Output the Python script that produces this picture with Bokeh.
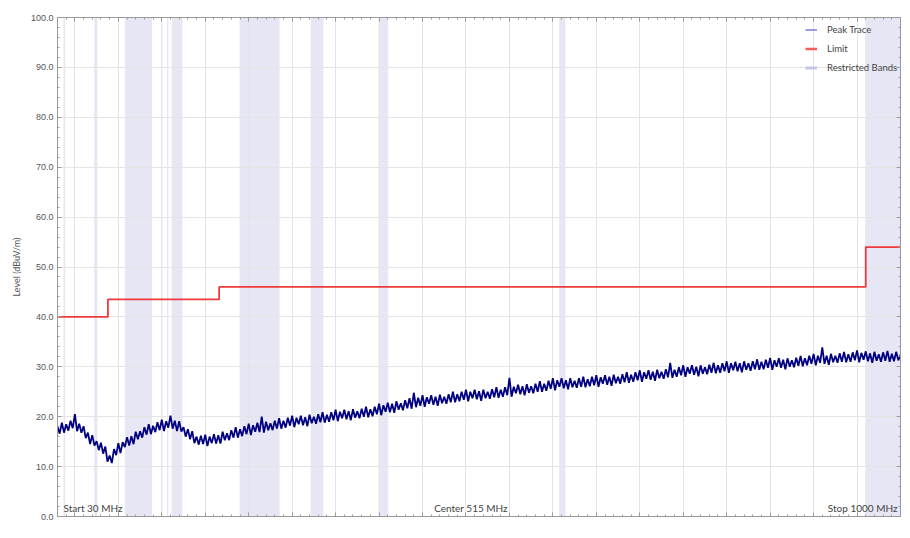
from bokeh.plotting import figure
from bokeh.models import (Range1d, LinearAxis, FixedTicker, NumeralTickFormatter, Label,
                          Legend, LegendItem, CustomJSTickFormatter)
from bokeh.embed import file_html
from bokeh.resources import INLINE
import numpy as np

# ---- data ----
# Peak trace (dBuV/m), sampled every 2.5 MHz from 30 to 1000 MHz
peak_trace = [
    18.1, 16.6, 18.8, 16.8, 18.5, 17.2, 19.2, 17.7, 20.5, 17.1, 18.6, 16.8, 18.1, 15.7, 16.8, 14.5, 16.3, 14.2, 15.1, 13.3,  # 30
    14.8, 12.6, 14.0, 11.0, 12.2, 10.7, 13.5, 12.3, 14.7, 12.7, 14.9, 13.9, 15.9, 14.2, 16.1, 14.5, 17.0, 15.5, 17.1, 15.8,  # 80
    17.9, 16.4, 18.5, 16.5, 18.2, 16.9, 18.9, 17.3, 19.4, 17.1, 19.1, 17.8, 20.2, 17.6, 19.2, 17.1, 19.1, 17.0, 17.9, 16.0,  # 130
    17.5, 15.5, 17.1, 14.7, 16.0, 14.4, 16.2, 14.5, 16.4, 14.1, 16.0, 14.7, 16.5, 14.6, 16.3, 14.6, 17.0, 15.3, 16.7, 15.3,  # 180
    17.3, 15.8, 17.9, 15.8, 17.5, 16.1, 18.1, 16.5, 18.6, 16.3, 18.3, 17.0, 18.8, 16.9, 20.0, 16.8, 19.0, 17.3, 18.7, 17.3,  # 230
    19.2, 17.6, 19.7, 17.6, 19.2, 17.8, 19.8, 18.2, 20.2, 17.9, 19.8, 18.5, 20.2, 18.3, 19.9, 18.1, 20.4, 18.7, 20.0, 18.6,  # 280
    20.5, 18.9, 20.9, 18.8, 20.4, 19.0, 20.9, 19.3, 21.4, 19.1, 21.0, 19.7, 21.4, 19.5, 21.1, 19.3, 21.5, 19.8, 21.1, 19.7,  # 330
    21.6, 20.0, 22.0, 19.9, 21.5, 20.1, 22.0, 20.5, 22.6, 20.3, 22.3, 21.0, 22.8, 20.9, 22.6, 20.8, 23.1, 21.4, 22.7, 21.3,  # 380
    23.3, 21.7, 23.7, 21.6, 24.8, 21.9, 23.8, 22.2, 24.3, 22.0, 23.9, 22.6, 24.3, 22.4, 24.0, 22.2, 24.4, 22.7, 24.0, 22.6,  # 430
    24.5, 22.9, 25.0, 22.9, 24.5, 23.1, 25.0, 23.4, 25.4, 23.1, 25.0, 23.7, 25.4, 23.5, 25.1, 23.2, 25.4, 23.7, 25.0, 23.6,  # 480
    25.5, 23.9, 25.9, 23.8, 25.4, 24.0, 25.9, 24.3, 27.8, 24.0, 26.0, 24.7, 26.4, 24.5, 26.1, 24.3, 26.5, 24.8, 26.1, 24.7,  # 530
    26.6, 25.0, 27.1, 25.0, 26.6, 25.2, 27.2, 25.6, 27.7, 25.3, 27.3, 26.0, 27.7, 25.7, 27.3, 25.5, 27.7, 25.9, 27.2, 25.8,  # 580
    27.7, 26.0, 28.0, 25.9, 27.5, 26.1, 28.0, 26.3, 28.3, 26.0, 27.9, 26.6, 28.3, 26.4, 28.0, 26.2, 28.4, 26.7, 28.0, 26.6,  # 630
    28.5, 26.9, 28.9, 26.8, 28.4, 27.0, 28.9, 27.3, 29.3, 27.0, 28.9, 27.6, 29.3, 27.4, 29.0, 27.2, 29.4, 27.7, 29.0, 27.6,  # 680
    29.5, 27.9, 30.8, 27.8, 29.4, 28.0, 29.9, 28.3, 30.3, 28.0, 29.9, 28.6, 30.3, 28.4, 30.0, 28.1, 30.3, 28.6, 29.9, 28.5,  # 730
    30.4, 28.8, 30.8, 28.7, 30.3, 28.8, 30.7, 29.1, 31.1, 28.8, 30.7, 29.3, 31.0, 29.1, 30.7, 28.9, 31.1, 29.4, 30.7, 29.2,  # 780
    31.1, 29.5, 31.5, 29.4, 31.0, 29.5, 31.4, 29.8, 31.8, 29.4, 31.3, 30.0, 31.7, 29.8, 31.4, 29.5, 31.7, 30.0, 31.3, 29.9,  # 830
    31.8, 30.2, 32.2, 30.1, 31.7, 30.3, 32.2, 30.6, 32.6, 30.3, 32.2, 30.8, 33.9, 30.6, 32.2, 30.4, 32.6, 30.9, 32.2, 30.8,  # 880
    32.7, 31.0, 33.0, 30.9, 32.5, 31.0, 32.9, 31.3, 33.3, 30.9, 32.8, 31.4, 33.1, 31.1, 32.7, 30.8, 33.0, 31.2, 32.5, 31.0,  # 930
    32.9, 31.2, 33.2, 31.0, 32.6, 31.1, 33.0, 31.3, 32.4,                                                                    # 980
]
freq_mhz = np.linspace(30, 1000, len(peak_trace))

# Limit line (steps)
limit_freq = [30, 88, 216, 960, 1000]
limit_level = [40.0, 43.5, 46.0, 54.0, 54.0]

# Restricted bands (MHz)
band_start = [37.5, 73.0, 74.8, 108.0, 123.0, 149.9, 156.52475, 156.7, 162.0125, 167.72,
              240.0, 322.0, 399.9, 608.0, 960.0]
band_end = [38.25, 74.6, 75.2, 121.94, 138.0, 150.05, 156.52525, 156.9, 167.17, 173.2,
            285.0, 335.4, 410.0, 614.0, 1240.0]

y_major = list(range(0, 101, 10))
y_minor = list(range(0, 101, 2))
x_major = list(range(50, 1001, 50))
x_minor = list(range(30, 1001, 10))

legend_labels = ["Peak Trace", "Limit", "Restricted Bands"]
start_text = "Start 30 MHz"
center_text = "Center 515 MHz"
stop_text = "Stop 1000 MHz"
footer_text = "1.6 / 2.5 / 3.5 m"

# ---- figure ----
AXIS_COL = "#9a9a9a"
TXT_COL = "#555555"
GRID_COL = "#e4e4e4"
W, H = 902, 522

p = figure(width=W, height=H, x_range=Range1d(30, 1000), y_range=Range1d(0, 100),
           output_backend="svg", toolbar_location=None,
           min_border_left=57, min_border_right=2, min_border_top=17, min_border_bottom=6)
p.outline_line_color = None
p.background_fill_color = "white"
p.border_fill_color = "white"

empty_fmt = CustomJSTickFormatter(code="return ''")

def style_axis(ax, ticks, minors, fmt, label_size="1px"):
    ax.ticker = FixedTicker(ticks=ticks, minor_ticks=minors)
    ax.formatter = fmt
    ax.axis_line_color = AXIS_COL
    ax.major_tick_line_color = AXIS_COL
    ax.minor_tick_line_color = AXIS_COL
    ax.major_tick_in = 4
    ax.major_tick_out = 0
    ax.minor_tick_in = 2
    ax.minor_tick_out = 0
    ax.major_label_text_font_size = label_size
    ax.major_label_standoff = 0

xb = p.xaxis[0]
style_axis(xb, x_major, x_minor, empty_fmt)
yl = p.yaxis[0]
style_axis(yl, y_major, y_minor, NumeralTickFormatter(format="0.0"), "9px")
yl.major_label_standoff = 4
yl.major_label_text_color = TXT_COL
yl.major_label_text_font = "Liberation Sans"
yl.axis_label = "Level (dBuV/m)"
yl.axis_label_text_font_size = "9px"
yl.axis_label_text_font_style = "normal"
yl.axis_label_text_color = TXT_COL
yl.axis_label_text_font = "Lato"
yl.axis_label_standoff = 6
xt = LinearAxis()
style_axis(xt, x_major, x_minor, empty_fmt)
p.add_layout(xt, "above")
yr = LinearAxis()
style_axis(yr, y_major, y_minor, empty_fmt)
p.add_layout(yr, "right")

p.xgrid.ticker = FixedTicker(ticks=x_major)
p.ygrid.ticker = FixedTicker(ticks=y_major)
p.xgrid.grid_line_color = GRID_COL
p.ygrid.grid_line_color = GRID_COL

# restricted bands (below grid)
p.quad(left=band_start, right=band_end, bottom=0, top=100,
       fill_color="#e6e6f4", line_color="#e6e6f4", line_width=1, level="image")

# limit
p.step(limit_freq, limit_level, mode="after", line_color="#f03a3a", line_width=1.8)

# peak trace
p.line(freq_mhz, peak_trace, line_color="#000080", line_width=1.8)

# legend with dedicated legend glyphs (no visible data)
nan = [float("nan")]
lg_peak = p.line(x=nan, y=nan, line_color="#7b7be0", line_width=1.5)
lg_limit = p.line(x=nan, y=nan, line_color="#ff5a5a", line_width=2.5)
lg_band = p.line(x=nan, y=nan, line_color="#c4c4e4", line_width=3)
legend = Legend(items=[LegendItem(label=legend_labels[0], renderers=[lg_peak]),
                       LegendItem(label=legend_labels[1], renderers=[lg_limit]),
                       LegendItem(label=legend_labels[2], renderers=[lg_band])],
                location=(748, 442), border_line_alpha=0, background_fill_alpha=0,
                label_text_font_size="9.5px", label_text_font="Lato",
                label_text_color="#444444", glyph_width=12, glyph_height=13,
                label_standoff=10, spacing=6, padding=0, margin=0, label_height=13)
p.add_layout(legend)

lab_style = dict(text_font_size="10px", text_color="#444444", text_font="Lato")
p.add_layout(Label(x=30, y=0, x_offset=6, y_offset=3, text=start_text,
                   text_align="left", text_baseline="bottom", **lab_style))
p.add_layout(Label(x=515, y=0, x_offset=-8, y_offset=3, text=center_text,
                   text_align="center", text_baseline="bottom", **lab_style))
p.add_layout(Label(x=1000, y=0, x_offset=-3, y_offset=3, text=stop_text,
                   text_align="right", text_baseline="bottom", **lab_style))
p.add_layout(Label(x=1000, y=0, x_offset=0, y_offset=-5, text=footer_text,
                   text_align="right", text_baseline="bottom", text_font_size="6px",
                   text_color="#444444", text_font="Lato"))

open("out.html", "w").write(file_html(p, INLINE))
